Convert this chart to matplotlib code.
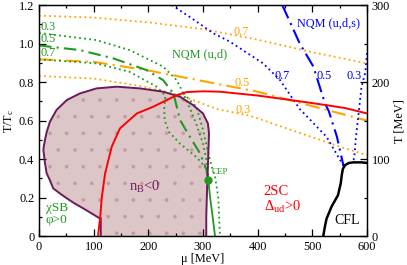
import matplotlib
matplotlib.use("Agg")
import matplotlib.pyplot as plt
from matplotlib.ticker import MultipleLocator, FixedLocator

plt.rcParams['font.family'] = ['Liberation Serif', 'DejaVu Serif']
plt.rcParams['mathtext.fontset'] = 'custom'
plt.rcParams['mathtext.rm'] = 'Liberation Serif'
plt.rcParams['mathtext.it'] = 'Liberation Serif:italic'
plt.rcParams['hatch.linewidth'] = 0.2

# ---- data (mu in MeV, T in units of T_c) ----
# n_B < 0 region
nb_mu = [113, 113, 110, 95, 81, 65, 51, 38, 26, 20, 14, 11, 8, 9, 11, 14, 20, 32, 51, 75,
         105, 142, 185, 227, 258, 282, 300, 309, 311, 310, 309, 308, 307, 306, 306]
nb_t = [0, 0.094, 0.094, 0.12, 0.144, 0.17, 0.196, 0.222, 0.248, 0.29, 0.326, 0.378, 0.447, 0.47,
        0.50, 0.54, 0.594, 0.655, 0.707, 0.741, 0.767, 0.776, 0.767, 0.750, 0.724, 0.68, 0.637,
        0.585, 0.534, 0.45, 0.36, 0.29, 0.2, 0.1, 0]

# 2SC boundary
sc_mu = [108, 110, 112, 115, 121, 133, 148, 179, 209, 234, 252, 270, 300, 331, 355, 400, 465, 526, 560, 600]
sc_t = [0, 0.05, 0.10, 0.204, 0.326, 0.464, 0.559, 0.637, 0.672, 0.707, 0.732, 0.748, 0.752, 0.75,
        0.743, 0.73, 0.705, 0.68, 0.665, 0.637]

# CFL boundary
cfl_mu = [520, 523, 526, 535, 547, 552, 554, 556, 560, 567, 575, 590, 600]
cfl_t = [0, 0.05, 0.09, 0.152, 0.213, 0.274, 0.32, 0.35, 0.369, 0.38, 0.383, 0.383, 0.38]

# first order chiral line ending at CEP
fo_mu = [309.7, 312.8, 317.7, 322]
fo_t = [0.292, 0.204, 0.10, 0.0]
cep = (309.7, 0.292)

# NQM (u,d) contours
g5_mu = [0, 75, 136, 197, 227, 246, 258, 276, 294.5, 306.7, 309.7]
g5_t = [0.99, 0.966, 0.923, 0.862, 0.81, 0.741, 0.603, 0.516, 0.43, 0.343, 0.292]
g3_mu = [0, 105, 166, 227, 252, 264, 278, 288, 300, 306, 309.7]
g3_t = [1.055, 1.018, 0.966, 0.88, 0.81, 0.741, 0.65, 0.58, 0.48, 0.4, 0.30]
g3b_mu = [264, 288, 300, 310, 316, 322, 328, 331]
g3b_t = [0.741, 0.672, 0.551, 0.43, 0.36, 0.31, 0.2, 0.0]
g7_mu = [0, 105, 166, 215, 231, 229, 230, 238, 258, 288, 304, 309.7]
g7_t = [0.918, 0.897, 0.853, 0.776, 0.73, 0.66, 0.6, 0.54, 0.48, 0.41, 0.36, 0.30]

# orange contours
o7_mu = [0, 100, 200, 300, 400, 500, 600]
o7_t = [1.145, 1.135, 1.11, 1.075, 1.02, 0.955, 0.897]
o5_mu = [0, 100, 200, 300, 400, 500, 600]
o5_t = [0.918, 0.905, 0.86, 0.805, 0.75, 0.675, 0.60]
o3_mu = [0, 100, 185, 246, 288, 325, 386, 478, 551, 600]
o3_t = [0.832, 0.818, 0.78, 0.741, 0.70, 0.66, 0.625, 0.535, 0.464, 0.42]

# NQM (u,d,s) contours
b5_mu = [445, 477, 502, 523, 530, 545, 557]
b5_t = [1.2, 1.0, 0.88, 0.69, 0.65, 0.516, 0.365]
b7_mu = [243, 280, 319, 349, 410, 441, 477, 526, 557]
b7_t = [1.2, 1.13, 1.053, 1.01, 0.897, 0.81, 0.66, 0.516, 0.365]
b3_mu = [600, 597, 590, 584, 580, 577, 575]
b3_t = [0.95, 0.85, 0.776, 0.62, 0.52, 0.42, 0.385]

left_ticks = [0, 0.2, 0.4, 0.6, 0.8, 1.0, 1.2]
left_labels = ['0', '0.2', '0.4', '0.6', '0.8', '1.0', '1.2']

purple = '#6c1a5c'
green = '#1f9a1f'
orange = '#ffa500'
blue = '#0000ff'
red = '#ff0000'

fig = plt.figure(figsize=(4.07, 2.65), dpi=100)
ax = fig.add_axes([0.0958, 0.109, 0.8059, 0.872])

ax.fill(nb_mu, nb_t, facecolor='#dcc6c8', edgecolor='#c49ca0', hatch='.', lw=0, zorder=1)
ax.plot(nb_mu, nb_t, color=purple, lw=1.4, zorder=5)

dot = (0, (1, 1.8))
ax.plot(o7_mu, o7_t, color=orange, lw=1.3, ls=dot, zorder=2)
ax.plot(o5_mu, o5_t, color=orange, lw=1.5, ls=(0, (7, 2.5, 1, 2.5)), zorder=2)
ax.plot(o3_mu, o3_t, color=orange, lw=1.3, ls=dot, zorder=2)

ax.plot(b7_mu, b7_t, color=blue, lw=1.3, ls=dot, zorder=3)
ax.plot(b5_mu, b5_t, color=blue, lw=1.5, ls=(0, (7, 2.5, 1, 2.5)), zorder=3)
ax.plot(b3_mu, b3_t, color=blue, lw=1.3, ls=dot, zorder=3)

ax.plot(g3_mu, g3_t, color=green, lw=1.3, ls=dot, zorder=4)
ax.plot(g3b_mu, g3b_t, color=green, lw=1.3, ls=dot, zorder=4)
ax.plot(g7_mu, g7_t, color=green, lw=1.3, ls=dot, zorder=4)
ax.plot(g5_mu, g5_t, color=green, lw=1.5, ls=(0, (6, 2.5, 1, 2.5)), zorder=4)
ax.plot(fo_mu, fo_t, color=green, lw=1.3, zorder=6)
ax.plot([cep[0]], [cep[1]], 'o', color=green, ms=5, zorder=7)

ax.plot(sc_mu, sc_t, color=red, lw=1.4, zorder=6)
ax.plot(cfl_mu, cfl_t, color='black', lw=1.8, zorder=6)

# labels in the plot
fs = 8.8
ax.text(294, 0.945, 'NQM (u,d)', color=green, fontsize=fs, ha='center', va='center')
ax.text(529, 1.106, 'NQM (u,d,s)', color=blue, fontsize=fs, ha='center', va='center')
for lab, t in zip(['0.3', '0.5', '0.7'], [1.086, 1.022, 0.952]):
    ax.text(3, t, lab, color=green, fontsize=fs, ha='left', va='center')
for lab, m, t in zip(['0.7', '0.5', '0.3'], [369, 372, 373], [1.061, 0.793, 0.655]):
    ax.text(m, t, lab, color=orange, fontsize=fs, ha='center', va='center')
for lab, m in zip(['0.7', '0.5', '0.3'], [445, 522, 577]):
    ax.text(m, 0.831, lab, color=blue, fontsize=fs, ha='center', va='center')
ax.text(194, 0.256, r'n$_\mathrm{B}$<0', color=purple, fontsize=10.5, ha='center', va='center')
ax.text(316, 0.334, 'CEP', color=green, fontsize=6.5, ha='left', va='center')
ax.text(411, 0.23, '2SC', color=red, fontsize=10.5, ha='left', va='center')
ax.text(411, 0.152, r'$\Delta_\mathrm{ud}$>0', color=red, fontsize=10.5, ha='left', va='center')
ax.text(564, 0.083, 'CFL', color='black', fontsize=10, ha='center', va='center')
ax.text(12, 0.145, 'χSB', color=green, fontsize=9.5, ha='left', va='center')
ax.text(12, 0.083, 'φ>0', color=green, fontsize=9.5, ha='left', va='center')

ax.set_xlim(0, 600)
ax.set_ylim(0, 1.2)
ax.xaxis.set_major_locator(MultipleLocator(100))
ax.xaxis.set_minor_locator(MultipleLocator(50))
ax.yaxis.set_major_locator(FixedLocator(left_ticks))
ax.set_yticklabels(left_labels)
ax.yaxis.set_minor_locator(MultipleLocator(0.1))
ax.tick_params(which='both', direction='in', top=True, right=False, labelsize=fs, width=0.9)
ax.tick_params(which='major', length=5)
ax.tick_params(which='minor', length=2.5)
ax.set_xlabel('μ [MeV]', fontsize=fs, labelpad=0)
ax.set_ylabel(r'T/T$_\mathrm{c}$', fontsize=fs, labelpad=2)

ax2 = ax.twinx()
ax2.set_ylim(0, 300)
ax2.yaxis.set_major_locator(MultipleLocator(100))
ax2.yaxis.set_minor_locator(MultipleLocator(50))
ax2.tick_params(which='both', direction='in', labelsize=fs, width=0.9)
ax2.tick_params(which='major', length=5)
ax2.tick_params(which='minor', length=2.5)
ax2.set_ylabel('T [MeV]', fontsize=fs, labelpad=2)

for a in (ax, ax2):
    for s in a.spines.values():
        s.set_linewidth(0.9)

fig.savefig('out.png', dpi=100)
